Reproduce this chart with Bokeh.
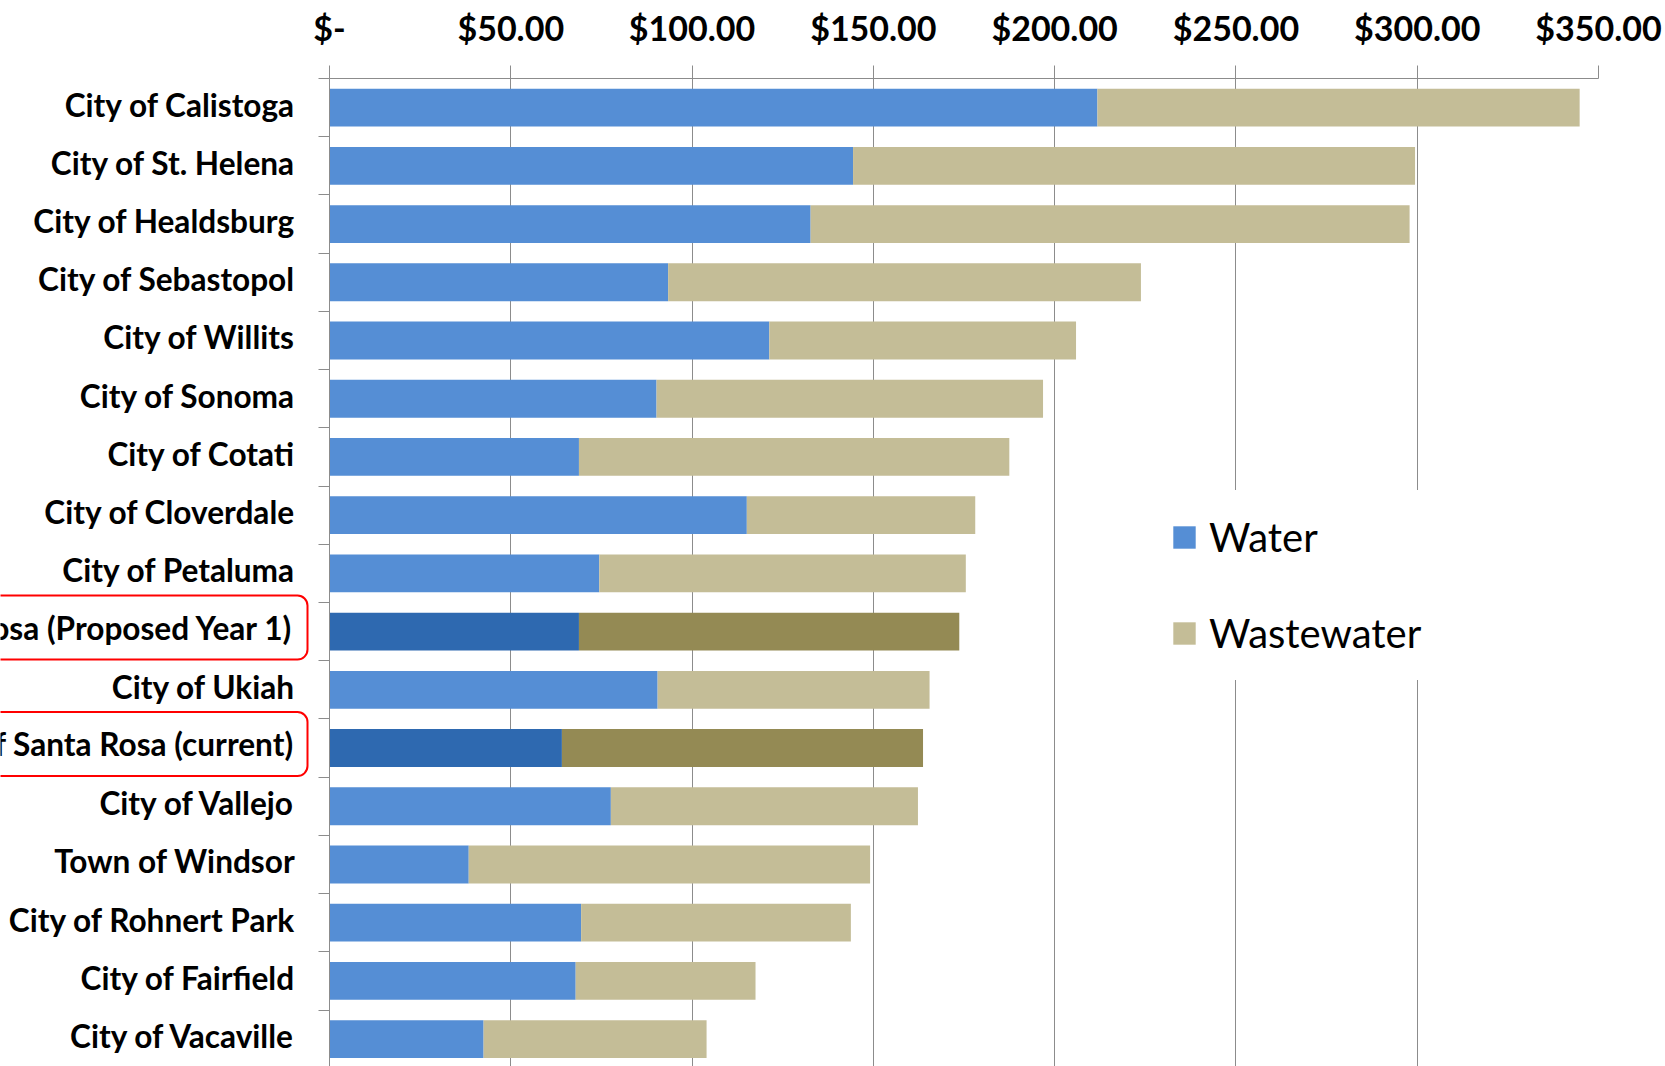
from bokeh.plotting import figure
from bokeh.layouts import row
from bokeh.models import (ColumnDataSource, FixedTicker, Range1d, LinearAxis,
                          Legend, LegendItem, CustomJSTickFormatter)
from bokeh.core.properties import value
from bokeh.embed import file_html
from bokeh.resources import INLINE

categories = [
    "City of Calistoga", "City of St. Helena", "City of Healdsburg", "City of Sebastopol",
    "City of Willits", "City of Sonoma", "City of Cotati", "City of Cloverdale",
    "City of Petaluma", "City of Santa Rosa (Proposed Year 1)", "City of Ukiah",
    "City of Santa Rosa (current)", "City of Vallejo", "Town of Windsor",
    "City of Rohnert Park", "City of Fairfield", "City of Vacaville",
]
water = [211.8, 144.4, 132.7, 93.4, 121.3, 90.2, 68.8, 115.1, 74.4, 68.8, 90.5, 64.1,
         77.6, 38.4, 69.4, 67.9, 42.5]
wastewater = [133.0, 155.0, 165.2, 130.4, 84.6, 106.6, 118.7, 63.0, 101.1, 104.9, 75.0,
              99.6, 84.7, 110.7, 74.4, 49.6, 61.5]
highlighted = ["City of Santa Rosa (Proposed Year 1)", "City of Santa Rosa (current)"]
x_ticks = [0, 50, 100, 150, 200, 250, 300, 350]
x_tick_labels = ["$-", "$50.00", "$100.00", "$150.00", "$200.00", "$250.00", "$300.00", "$350.00"]

WATER, WASTE = "#558ED5", "#C4BD97"
WATER_HI, WASTE_HI = "#2E69B0", "#948A54"
GRID = "#8C8C8C"
FONT = "Lato"

n = len(categories)
idx = list(range(n))
total = [w + ww for w, ww in zip(water, wastewater)]
src = ColumnDataSource(dict(
    y=idx, cat=categories, water=water, total=total,
    wc=[WATER_HI if c in highlighted else WATER for c in categories],
    wwc=[WASTE_HI if c in highlighted else WASTE for c in categories],
))
norm_src = ColumnDataSource(dict(
    y=[i for i, c in enumerate(categories) if c not in highlighted],
    cat=[c for c in categories if c not in highlighted]))
hi_src = ColumnDataSource(dict(
    y=[i for i, c in enumerate(categories) if c in highlighted],
    cat=[c for c in categories if c in highlighted]))

H = 1066
TOP = 78
y_range = Range1d(16.47, -0.5)

# ---- label panel (left) ----
pl = figure(width=309, height=H, output_backend="svg", toolbar_location=None,
            x_range=Range1d(-1, 0), y_range=y_range,
            x_axis_location=None, y_axis_location=None,
            min_border_left=0, min_border_right=0, min_border_top=TOP, min_border_bottom=0)
pl.outline_line_color = None
pl.xgrid.visible = False
pl.ygrid.visible = False
pl.text(x=0, y="y", text="cat", source=norm_src, x_offset=-14, y_offset=-3,
        text_align="right", text_baseline="middle", text_font=value(FONT),
        text_font_style="bold", text_font_size="31.6px", text_color="black")
pl.text(x=0, y="y", text="cat", source=hi_src, x_offset=-2, y_offset=-4,
        text_align="right", text_baseline="middle", text_font=value(FONT),
        text_font_style="bold", text_font_size="31.6px", text_color="black",
        border_line_color="red", border_line_width=2, border_radius=10, padding=13)

# ---- chart ----
p = figure(width=1665 - 309, height=H, output_backend="svg", toolbar_location=None,
           x_range=Range1d(0, 350), y_range=y_range,
           x_axis_location="above", y_axis_location=None,
           min_border_left=20, min_border_right=67, min_border_top=TOP, min_border_bottom=0)
p.outline_line_color = None
p.ygrid.visible = False

xa = p.xaxis[0]
xa.ticker = FixedTicker(ticks=x_ticks)
xa.major_label_overrides = {t: l for t, l in zip(x_ticks, x_tick_labels)}
xa.major_tick_out = 13
xa.major_tick_in = 0
xa.minor_tick_out = 0
xa.minor_tick_in = 0
xa.axis_line_color = GRID
xa.major_tick_line_color = GRID
xa.major_label_text_font = FONT
xa.major_label_text_font_style = "bold"
xa.major_label_text_font_size = "34px"
xa.major_label_text_color = "black"
xa.major_label_standoff = 18

p.xgrid.ticker = FixedTicker(ticks=x_ticks)
p.xgrid.grid_line_color = GRID
p.xgrid.grid_line_width = 1

ya = LinearAxis(ticker=FixedTicker(ticks=[i - 0.5 for i in range(n + 1)]),
                formatter=CustomJSTickFormatter(code="return ''"))
ya.major_tick_out = 11
ya.major_tick_in = 0
ya.minor_tick_out = 0
ya.minor_tick_in = 0
ya.major_label_standoff = 0
ya.axis_line_color = GRID
ya.major_tick_line_color = GRID
ya.major_label_text_font_size = "1px"
p.add_layout(ya, "left")

r1 = p.hbar(y="y", left=0, right="water", height=0.65, fill_color="wc",
            line_color=None, source=src)
r2 = p.hbar(y="y", left="water", right="total", height=0.65, fill_color="wwc",
            line_color=None, source=src)

legend = Legend(items=[LegendItem(label="Water", renderers=[r1], index=0),
                       LegendItem(label="Wastewater", renderers=[r2], index=0)],
                location=(841, 386), border_line_color=None,
                background_fill_color="white", background_fill_alpha=1.0,
                glyph_width=28, glyph_height=28, label_text_font=FONT,
                label_text_font_size="40px", label_text_color="black",
                label_standoff=11, spacing=2, label_height=94, padding=40, margin=0)
p.add_layout(legend)

layout = row(pl, p, spacing=0)
open("out.html", "w").write(file_html(layout, INLINE))
